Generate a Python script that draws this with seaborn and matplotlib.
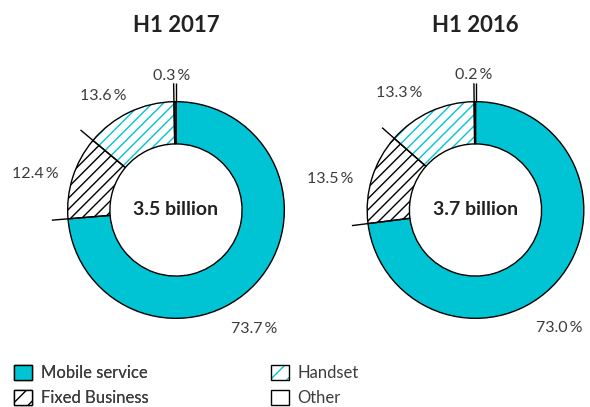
import numpy as np
import matplotlib
matplotlib.use("Agg")
import matplotlib.pyplot as plt
from matplotlib.patches import Patch
from matplotlib.legend_handler import HandlerTuple
import seaborn as sns

# Revenue split by segment (share of total, %)
segments = ["Mobile service", "Fixed Business", "Handset", "Other"]
periods = ["H1 2017", "H1 2016"]
totals = ["3.5 billion", "3.7 billion"]
share_2017 = [73.7, 12.4, 13.6, 0.3]
share_2016 = [73.0, 13.5, 13.3, 0.2]

TEAL = "#00c4d4"
TEXT = "#3c3c3c"
FONT = ["Lato", "DejaVu Sans"]

# label placement (x center, baseline y) in pie units, per chart
label_pos = [
    [(0.72, -1.134), (-1.30, 0.295), (-0.67, 1.014), (-0.04, 1.198)],
    [(0.77, -1.124), (-1.34, 0.249), (-0.70, 1.040), (-0.02, 1.207)],
]

sns.set_theme(style="white")
plt.rcParams["font.family"] = FONT
plt.rcParams["hatch.linewidth"] = 1.0

W, H = 590, 407
fig = plt.figure(figsize=(W / 100, H / 100), dpi=100)
fig.patch.set_facecolor("white")

centers = [(176, 210), (475.5, 210)]
half = 130


def draw_donut(ax, values, title, total, positions):
    face = [TEAL, "white", "white", "white"]
    hatches = [None, "///", "///", None]
    hatch_edge = [TEAL, "black", TEAL, "white"]
    # fill + hatch pass
    wedges, _ = ax.pie(values, startangle=90, counterclock=False, radius=1,
                       colors=face, wedgeprops=dict(width=0.39, linewidth=0))
    for w, h, ec in zip(wedges, hatches, hatch_edge):
        w.set_edgecolor(ec)
        if h:
            w.set_hatch(h)
    # outline pass
    ax.pie(values, startangle=90, counterclock=False, radius=1,
           colors=["none"] * len(values),
           wedgeprops=dict(width=0.39, linewidth=1.0, edgecolor="black"))

    # leader ticks on slice boundaries
    bounds = 90 - np.cumsum(values) / np.sum(values) * 360
    ends = [1.15, 1.15, 1.17, 1.17]
    for ang, r1 in zip(bounds, ends):
        a = np.deg2rad(ang)
        ax.plot([np.cos(a), r1 * np.cos(a)], [np.sin(a), r1 * np.sin(a)],
                color="black", lw=1.0, clip_on=False, solid_capstyle="butt")

    for v, (x, y) in zip(values, positions):
        ax.text(x, y, f"{v:.1f}\u2009%", ha="center", va="baseline",
                fontsize=11.5, color=TEXT)

    ax.text(0, 1.643, title, ha="center", va="baseline", fontsize=16,
            fontweight="bold", color="#222222")
    ax.text(0, -0.05, total, ha="center", va="baseline", fontsize=14,
            fontweight="bold", color="#222222")
    ax.set_xlim(-1.2, 1.2)
    ax.set_ylim(-1.2, 1.2)
    ax.set_aspect("equal")
    ax.axis("off")


for (cx, cy), values, title, total, pos in zip(
        centers, [share_2017, share_2016], periods, totals, label_pos):
    ax = fig.add_axes([(cx - half) / W, (H - cy - half) / H, 2 * half / W, 2 * half / H])
    draw_donut(ax, values, title, total, pos)

# legend
outline = dict(facecolor="none", edgecolor="black", linewidth=1.0)
handles = [
    Patch(facecolor=TEAL, edgecolor="black", linewidth=1.0),
    Patch(facecolor="white", edgecolor="black", linewidth=1.0, hatch="//"),
    (Patch(facecolor="white", edgecolor=TEAL, linewidth=0, hatch="//"), Patch(**outline)),
    Patch(facecolor="white", edgecolor="black", linewidth=1.0),
]
common = dict(frameon=False, handlelength=1.1, handleheight=1.05,
              handletextpad=0.5, labelspacing=0.5, borderpad=0, borderaxespad=0,
              loc="upper left", labelcolor=TEXT,
              prop=dict(family=FONT, size=12),
              handler_map={tuple: HandlerTuple(ndivide=1, pad=0)})
leg1 = fig.legend(handles[:2], segments[:2], bbox_to_anchor=(14 / W, 1 - 365 / H), **common)
fig.add_artist(leg1)
fig.legend(handles[2:], segments[2:], bbox_to_anchor=(271 / W, 1 - 365 / H), **common)

fig.savefig("out.png", dpi=100, facecolor="white")
